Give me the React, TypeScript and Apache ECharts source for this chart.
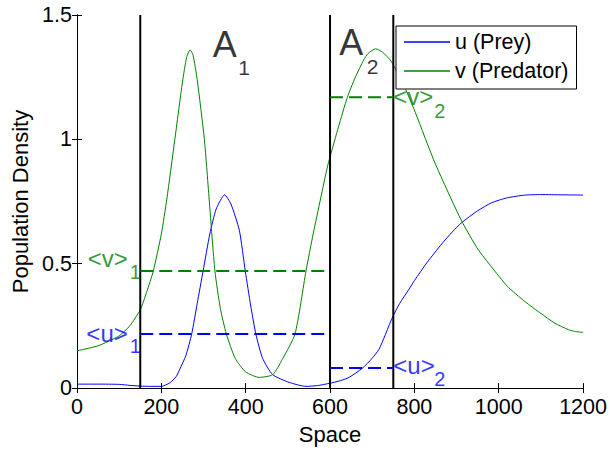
import React, { useEffect, useRef } from "react";
import * as echarts from "echarts";

// ---- data ----
const uX = [0, 50, 100, 125, 150, 175, 200, 220, 235, 244, 258, 272, 285, 299, 315, 330, 350, 365, 385, 399, 412, 424, 440, 464, 503, 543, 570, 598, 625, 645, 676, 700, 716, 730, 747, 765, 787, 800, 830, 865, 890, 912, 950, 983, 1020, 1062, 1100, 1150, 1200];
const uY = [0.016, 0.016, 0.015, 0.011, 0.008, 0.007, 0.007, 0.021, 0.046, 0.077, 0.13, 0.218, 0.34, 0.471, 0.62, 0.72, 0.777, 0.74, 0.634, 0.471, 0.33, 0.218, 0.12, 0.054, 0.023, 0.007, 0.01, 0.019, 0.03, 0.043, 0.079, 0.12, 0.156, 0.21, 0.281, 0.34, 0.397, 0.432, 0.505, 0.58, 0.628, 0.665, 0.713, 0.745, 0.765, 0.776, 0.778, 0.777, 0.776];

const vX = [0, 50, 100, 125, 150, 165, 181, 200, 213, 232, 250, 260, 268, 275, 285, 302, 314, 327, 340, 354, 375, 400, 432, 464, 487, 517, 543, 560, 578, 593, 600, 620, 641, 660, 680, 690, 708, 725, 745, 777, 802, 850, 912, 950, 983, 1020, 1062, 1100, 1133, 1165, 1180, 1200];
const vY = [0.15, 0.17, 0.21, 0.25, 0.315, 0.385, 0.471, 0.62, 0.76, 1.0, 1.23, 1.33, 1.36, 1.34, 1.24, 1.0, 0.745, 0.471, 0.32, 0.218, 0.12, 0.065, 0.043, 0.054, 0.116, 0.218, 0.471, 0.62, 0.765, 0.884, 0.93, 1.05, 1.169, 1.25, 1.32, 1.345, 1.364, 1.35, 1.314, 1.21, 1.109, 0.9, 0.672, 0.56, 0.487, 0.41, 0.348, 0.3, 0.261, 0.235, 0.228, 0.224];

const boundaries = [150, 600, 750];
const regionStart = [150, 600];
const regionEnd = [600, 750];
const avgU = [0.218, 0.081];
const avgV = [0.471, 1.169];
const regionNames = ["1", "2"];

const X_MIN = 0, X_MAX = 1200, X_STEP = 200;
const Y_MIN = 0, Y_MAX = 1.5, Y_STEP = 0.5;

const BLUE = "#0000ff";
const GREEN = "#008000";
const FONT = 'Arial, "Liberation Sans", Helvetica, sans-serif';

function ann(value: number[], text: string, dx: number, dy: number, size: number, color: string, align = "center") {
  return {
    value,
    label: {
      show: true,
      formatter: text,
      position: [dx, dy],
      align,
      verticalAlign: "middle",
      fontSize: size,
      color,
      fontFamily: FONT,
    },
  };
}

export default function App() {
  const ref = useRef<HTMLDivElement>(null);
  useEffect(() => {
    if (!ref.current) return;
    const chart = echarts.init(ref.current, null, { renderer: "svg" });

    const series: any[] = [
      {
        name: "u (Prey)",
        type: "line",
        data: uX.map((x, i) => [x, uY[i]]),
        showSymbol: false,
        smooth: 0.2,
        itemStyle: { color: BLUE },
        lineStyle: { color: BLUE, width: 1 },
        z: 2,
      },
      {
        name: "v (Predator)",
        type: "line",
        data: vX.map((x, i) => [x, vY[i]]),
        showSymbol: false,
        smooth: 0.2,
        itemStyle: { color: GREEN },
        lineStyle: { color: GREEN, width: 1 },
        z: 2,
      },
    ];

    boundaries.forEach((b) => {
      series.push({
        type: "line",
        data: [[b, Y_MIN], [b, Y_MAX]],
        showSymbol: false,
        silent: true,
        lineStyle: { color: "#000", width: 2 },
        z: 3,
      });
    });

    regionStart.forEach((s, i) => {
      series.push({
        type: "line",
        data: [[s, avgV[i]], [regionEnd[i], avgV[i]]],
        showSymbol: false,
        silent: true,
        lineStyle: { color: GREEN, width: 2, type: [13, 6] },
        z: 3,
      });
      series.push({
        type: "line",
        data: [[s, avgU[i]], [regionEnd[i], avgU[i]]],
        showSymbol: false,
        silent: true,
        lineStyle: { color: BLUE, width: 2, type: [13, 6] },
        z: 3,
      });
    });

    const mid0 = (regionStart[0] + regionEnd[0]) / 2;
    const mid1 = (regionStart[1] + regionEnd[1]) / 2;
    const annotations = [
      ann([mid0, Y_MAX], "A", -10, 29.5, 36, "#000"),
      ann([mid0, Y_MAX], regionNames[0], 9.5, 52.5, 21, "#000"),
      ann([mid1, Y_MAX], "A", -10, 27.5, 36, "#000"),
      ann([mid1, Y_MAX], regionNames[1], 11.5, 51.7, 21, "#000"),
      ann([regionStart[0], avgV[0]], "<v>", -12, -11.5, 24, GREEN, "right"),
      ann([regionStart[0], avgV[0]], regionNames[0], -4.5, 2, 20, GREEN),
      ann([regionStart[0], avgU[0]], "<u>", -12, 0.5, 24, BLUE, "right"),
      ann([regionStart[0], avgU[0]], regionNames[0], -4.5, 13, 20, BLUE),
      ann([regionEnd[1], avgV[1]], "<v>", 0.5, 0, 24, GREEN, "left"),
      ann([regionEnd[1], avgV[1]], regionNames[1], 47, 14, 20, GREEN),
      ann([regionEnd[1], avgU[1]], "<u>", 0.5, -1.5, 24, BLUE, "left"),
      ann([regionEnd[1], avgU[1]], regionNames[1], 47, 11.5, 20, BLUE),
    ];
    series.push({
      type: "scatter",
      data: annotations,
      symbolSize: 1,
      itemStyle: { color: "rgba(0,0,0,0)" },
      silent: true,
      z: 4,
    });

    const axisCommon = {
      axisLine: { show: true, lineStyle: { color: "#000", width: 1 } },
      axisTick: { show: true, inside: true, length: 5, lineStyle: { color: "#000", width: 1 } },
      splitLine: { show: false },
    };

    chart.setOption({
      animation: false,
      textStyle: { fontFamily: FONT },
      grid: { left: 77, top: 15, width: 508, height: 377.5, containLabel: false },
      legend: {
        data: ["u (Prey)", "v (Predator)"],
        orient: "vertical",
        left: 396,
        top: 26,
        icon: "rect",
        itemWidth: 46,
        itemHeight: 1.5,
        itemGap: 7,
        padding: [5, 8, 7, 8],
        borderColor: "#000",
        borderWidth: 1,
        backgroundColor: "#fff",
        borderRadius: 0,
        textStyle: { fontSize: 21.5, color: "#000", fontFamily: FONT },
        z: 10,
      },
      xAxis: [
        {
          type: "value",
          min: X_MIN,
          max: X_MAX,
          interval: X_STEP,
          position: "bottom",
          ...axisCommon,
          axisLabel: {
            fontSize: 21.5,
            color: "#000",
            margin: 8,
            fontFamily: FONT,
            formatter: (v: number) => String(v),
          },
          name: "Space",
          nameLocation: "middle",
          nameGap: 31.5,
          nameTextStyle: { fontSize: 22, color: "#000", fontFamily: FONT },
        },
        {
          type: "value",
          min: X_MIN,
          max: X_MAX,
          interval: X_STEP,
          position: "top",
          ...axisCommon,
          axisLabel: { show: false },
        },
      ],
      yAxis: [
        {
          type: "value",
          min: Y_MIN,
          max: Y_MAX,
          interval: Y_STEP,
          position: "left",
          ...axisCommon,
          axisLabel: {
            fontSize: 21.5,
            color: "#000",
            margin: 5,
            fontFamily: FONT,
            formatter: (v: number) => String(v),
          },
          name: "Population Density",
          nameLocation: "middle",
          nameGap: 44,
          nameTextStyle: { fontSize: 22, color: "#000", fontFamily: FONT },
        },
        {
          type: "value",
          min: Y_MIN,
          max: Y_MAX,
          interval: Y_STEP,
          position: "right",
          ...axisCommon,
          axisLabel: { show: false },
        },
      ],
      series,
    });
    return () => chart.dispose();
  }, []);
  return (
    <div
      ref={ref}
      style={{ position: "fixed", left: 0, top: 0, width: 610, height: 450, background: "#fff" }}
    />
  );
}
